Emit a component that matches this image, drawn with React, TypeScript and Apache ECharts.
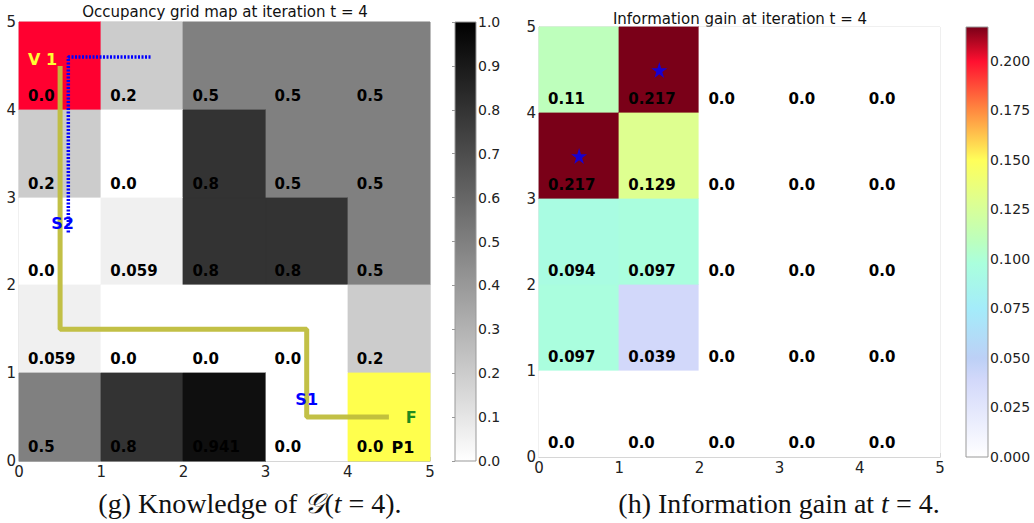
import React, { useEffect, useRef } from "react";
import * as echarts from "echarts";

// Occupancy grid (rows listed from top y=4 to bottom y=0)
const occupancyRows: number[][] = [
  [0.0, 0.2, 0.5, 0.5, 0.5],
  [0.2, 0.0, 0.8, 0.5, 0.5],
  [0.0, 0.059, 0.8, 0.8, 0.5],
  [0.059, 0.0, 0.0, 0.0, 0.2],
  [0.5, 0.8, 0.941, 0.0, 0.0],
];
// Information gain (rows listed from top y=4 to bottom y=0)
const gainRows: number[][] = [
  [0.11, 0.217, 0.0, 0.0, 0.0],
  [0.217, 0.129, 0.0, 0.0, 0.0],
  [0.094, 0.097, 0.0, 0.0, 0.0],
  [0.097, 0.039, 0.0, 0.0, 0.0],
  [0.0, 0.0, 0.0, 0.0, 0.0],
];
const gainLabels: string[][] = [
  ["0.11", "0.217", "0.0", "0.0", "0.0"],
  ["0.217", "0.129", "0.0", "0.0", "0.0"],
  ["0.094", "0.097", "0.0", "0.0", "0.0"],
  ["0.097", "0.039", "0.0", "0.0", "0.0"],
  ["0.0", "0.0", "0.0", "0.0", "0.0"],
];
const occupancyLabels: string[][] = [
  ["0.0", "0.2", "0.5", "0.5", "0.5"],
  ["0.2", "0.0", "0.8", "0.5", "0.5"],
  ["0.0", "0.059", "0.8", "0.8", "0.5"],
  ["0.059", "0.0", "0.0", "0.0", "0.2"],
  ["0.5", "0.8", "0.941", "0.0", "0.0"],
];
// special coloured cells [col, row, colour]
const specialCells: [number, number, string][] = [
  [0, 4, "#ff0030"],
  [4, 0, "#ffff4d"],
];
const robotPath: [number, number][] = [
  [0.5, 4.5], [0.5, 1.5], [3.5, 1.5], [3.5, 0.5], [4.5, 0.5],
];
const sensorPath: [number, number][] = [
  [1.6, 4.6], [0.6, 4.6], [0.6, 2.6],
];
const annotations: { text: string; x: number; y: number; color: string; align: string }[] = [
  { text: "V 1", x: 0.11, y: 4.57, color: "#ffff33", align: "left" },
  { text: "S2", x: 0.53, y: 2.7, color: "#0000ff", align: "center" },
  { text: "S1", x: 3.5, y: 0.7, color: "#0000ff", align: "center" },
  { text: "F", x: 4.77, y: 0.49, color: "#1f8a1f", align: "center" },
  { text: "P1", x: 4.67, y: 0.15, color: "#000000", align: "center" },
];
const stars: [number, number][] = [[1.5, 4.5], [0.5, 3.5]];
const gainMax = 0.217;
const gainStops: [number, string][] = [
  [0, "#ffffff"], [0.18, "#d2d8fa"], [0.23, "#bcd0f6"], [0.345, "#a4ecfa"],
  [0.45, "#aaffdd"], [0.5, "#bbffbf"], [0.595, "#deff90"], [0.69, "#ffff5a"],
  [0.806, "#ff8a40"], [0.92, "#ff1030"], [1, "#7a0018"],
];

function hexToRgb(h: string) {
  return [parseInt(h.slice(1, 3), 16), parseInt(h.slice(3, 5), 16), parseInt(h.slice(5, 7), 16)];
}
function gainColor(v: number) {
  const t = Math.max(0, Math.min(1, v / gainMax));
  for (let i = 1; i < gainStops.length; i++) {
    const [t1, c1] = gainStops[i];
    const [t0, c0] = gainStops[i - 1];
    if (t <= t1) {
      const f = (t - t0) / (t1 - t0);
      const a = hexToRgb(c0), b = hexToRgb(c1);
      const c = a.map((x, k) => Math.round(x + (b[k] - x) * f));
      return `rgb(${c[0]},${c[1]},${c[2]})`;
    }
  }
  return gainStops[gainStops.length - 1][1];
}
function grayColor(v: number) {
  const g = Math.round(255 * (1 - v));
  return `rgb(${g},${g},${g})`;
}

const FONT = "DejaVu Sans";

export default function App() {
  const ref = useRef<HTMLDivElement>(null);
  useEffect(() => {
    const chart = echarts.init(ref.current!, null, { renderer: "svg" });

    const occData: any[] = [];
    occupancyRows.forEach((row, ri) =>
      row.forEach((v, ci) => {
        const y = 4 - ri;
        const sp = specialCells.find((s) => s[0] === ci && s[1] === y);
        occData.push({ value: [ci, y, v], color: sp ? sp[2] : grayColor(v), label: occupancyLabels[ri][ci] });
      })
    );
    const gainData: any[] = [];
    gainRows.forEach((row, ri) =>
      row.forEach((v, ci) => {
        gainData.push({ value: [ci, 4 - ri, v], color: v === 0 ? "#ffffff" : gainColor(v), label: gainLabels[ri][ci] });
      })
    );

    const cellRender = (dataArr: any[]) => (params: any, api: any) => {
      const d = dataArr[params.dataIndex];
      const x = api.value(0), y = api.value(1);
      const p0 = api.coord([x, y + 1]);
      const p1 = api.coord([x + 1, y]);
      const X0 = Math.round(p0[0]), Y0 = Math.round(p0[1]), X1 = Math.round(p1[0]), Y1 = Math.round(p1[1]);
      return {
        type: "group",
        children: [
          {
            type: "rect", shape: { x: X0, y: Y0, width: X1 - X0, height: Y1 - Y0 },
            style: { fill: d.color, stroke: d.color, lineWidth: 0.8 },
          },
          {
            type: "text", x: p0[0] + 9, y: p1[1] - 14, z2: 10,
            style: { text: d.label, fill: "#000", font: `bold 15px '${FONT}'`, verticalAlign: "middle", align: "left" },
          },
        ],
      };
    };

    const mainX = (gi: number) => ({
      type: "value", gridIndex: gi, min: 0, max: 5, interval: 1,
      axisLine: { show: true, lineStyle: { color: "#bbbbbb" } },
      axisTick: { show: true, inside: true, length: 4, lineStyle: { color: "#bbbbbb" } },
      splitLine: { show: false },
      axisLabel: { color: "#222", fontFamily: FONT, fontSize: 15, margin: 3 },
    });
    const mainY = (gi: number) => ({
      type: "value", gridIndex: gi, min: 0, max: 5, interval: 1,
      axisLine: { show: true, lineStyle: { color: "#bbbbbb" } },
      axisTick: { show: true, inside: true, length: 4, lineStyle: { color: "#bbbbbb" } },
      splitLine: { show: false },
      axisLabel: { color: "#222", fontFamily: FONT, fontSize: 15, margin: 3 },
    });
    const cbX = (gi: number) => ({ type: "value", gridIndex: gi, min: 0, max: 1, show: false });

    const grayStops = [{ offset: 0, color: "#000000" }, { offset: 1, color: "#ffffff" }];
    const jetStops = gainStops.map(([t, c]) => ({ offset: 1 - t, color: c })).reverse();

    const barRender = (stops: any[]) => (params: any, api: any) => {
      const cs = params.coordSys;
      return {
        type: "rect",
        shape: { x: cs.x, y: cs.y, width: cs.width, height: cs.height },
        style: { fill: new echarts.graphic.LinearGradient(0, 0, 0, 1, stops), stroke: "#999", lineWidth: 1 },
      };
    };

    chart.setOption({
      animation: false,
      backgroundColor: "#ffffff",
      grid: [
        { left: 19, top: 22, width: 411, height: 439, show: true, borderColor: "#cccccc", backgroundColor: "transparent" },
        { left: 455, top: 22, width: 21, height: 439 },
        { left: 539, top: 27, width: 401, height: 430, show: true, borderColor: "#cccccc", backgroundColor: "transparent" },
        { left: 966, top: 27, width: 22, height: 430 },
      ],
      xAxis: [mainX(0), cbX(1), mainX(2), cbX(3)],
      yAxis: [
        mainY(0),
        {
          type: "value", gridIndex: 1, min: 0, max: 1, interval: 0.1, position: "right",
          axisLine: { show: false }, splitLine: { show: false },
          axisTick: { show: true, inside: true, length: 3, lineStyle: { color: "#999" } },
          axisLabel: { color: "#222", fontFamily: FONT, fontSize: 14, margin: 2, formatter: (v: number) => v.toFixed(1) },
        },
        mainY(2),
        {
          type: "value", gridIndex: 3, min: 0, max: gainMax, interval: 0.025, position: "right",
          axisLine: { show: false }, splitLine: { show: false },
          axisTick: { show: false },
          axisLabel: {
            color: "#222", fontFamily: FONT, fontSize: 14, margin: 2,
            formatter: (v: number) => (Math.abs(v / 0.025 - Math.round(v / 0.025)) > 1e-6 ? "" : v.toFixed(3)),
          },
        },
      ],
      series: [
        { type: "custom", xAxisIndex: 0, yAxisIndex: 0, data: occData.map((d) => d.value), renderItem: cellRender(occData), z: 1 },
        {
          type: "line", xAxisIndex: 0, yAxisIndex: 0, data: robotPath, showSymbol: false, z: 3,
          lineStyle: { color: "#bfbd3c", width: 5, opacity: 0.95 },
        },
        {
          type: "line", xAxisIndex: 0, yAxisIndex: 0, data: sensorPath, showSymbol: false, z: 4,
          lineStyle: { color: "#0000ff", width: 3.5, type: [2, 1.5] },
        },
        {
          type: "custom", xAxisIndex: 0, yAxisIndex: 0, z: 5,
          data: annotations.map((a, i) => [a.x, a.y, i]),
          renderItem: (params: any, api: any) => {
            const a = annotations[params.dataIndex];
            const p = api.coord([api.value(0), api.value(1)]);
            return {
              type: "text", x: p[0], y: p[1],
              style: { text: a.text, fill: a.color, font: `bold 16px '${FONT}'`, align: a.align, verticalAlign: "middle" },
            };
          },
        },
        { type: "custom", xAxisIndex: 1, yAxisIndex: 1, data: [[0, 0]], renderItem: barRender(grayStops) },
        { type: "custom", xAxisIndex: 2, yAxisIndex: 2, data: gainData.map((d) => d.value), renderItem: cellRender(gainData), z: 1 },
        {
          type: "scatter", xAxisIndex: 2, yAxisIndex: 2, data: stars, z: 5,
          symbol: "path://M50,0 L61,35 L98,35 L68,57 L79,91 L50,70 L21,91 L32,57 L2,35 L39,35 Z",
          symbolSize: 16, itemStyle: { color: "#0000ff" },
        },
        { type: "custom", xAxisIndex: 3, yAxisIndex: 3, data: [[0, 0]], renderItem: barRender(jetStops) },
      ],
      graphic: [
        { type: "text", x: 225, y: 12, style: { text: "Occupancy grid map at iteration t = 4", font: `15px '${FONT}'`, fill: "#111", align: "center", verticalAlign: "middle" } },
        { type: "text", x: 740, y: 19, style: { text: "Information gain at iteration t = 4", font: `15px '${FONT}'`, fill: "#111", align: "center", verticalAlign: "middle" } },
        {
          type: "text", x: 250, y: 503,
          style: {
            text: "(g) Knowledge of {i|𝒢}({i|t} = 4).", font: "28px 'Liberation Serif'", fill: "#111",
            align: "center", verticalAlign: "middle",
            rich: { i: { fontStyle: "italic", fontFamily: "Liberation Serif", fontSize: 28 } },
          },
        },
        {
          type: "text", x: 779, y: 503,
          style: {
            text: "(h) Information gain at {i|t} = 4.", font: "28px 'Liberation Serif'", fill: "#111",
            align: "center", verticalAlign: "middle",
            rich: { i: { fontStyle: "italic", fontFamily: "Liberation Serif", fontSize: 28 } },
          },
        },
      ],
    });
    return () => chart.dispose();
  }, []);
  return <div ref={ref} style={{ position: "fixed", left: 0, top: 0, width: 1034, height: 523 }} />;
}
